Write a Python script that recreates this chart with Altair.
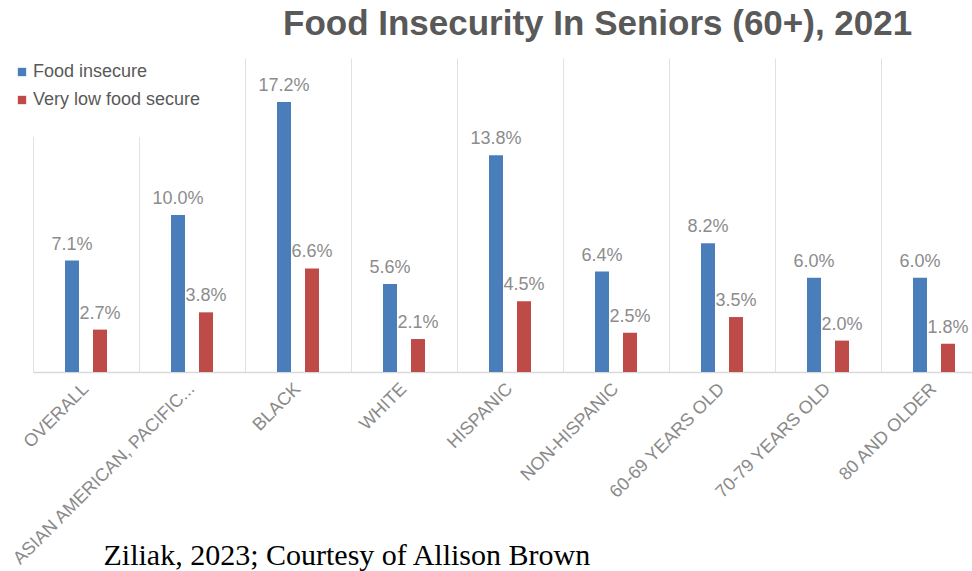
import altair as alt
import pandas as pd

categories = ["OVERALL", "ASIAN AMERICAN, PACIFIC...", "BLACK", "WHITE", "HISPANIC",
              "NON-HISPANIC", "60-69 YEARS OLD", "70-79 YEARS OLD", "80 AND OLDER"]
food_insecure = [7.1, 10.0, 17.2, 5.6, 13.8, 6.4, 8.2, 6.0, 6.0]
very_low = [2.7, 3.8, 6.6, 2.1, 4.5, 2.5, 3.5, 2.0, 1.8]
series = ["Food insecure", "Very low food secure"]
colors = ["#4A7EBB", "#BE4B48"]

rows = []
for c, a, b in zip(categories, food_insecure, very_low):
    rows.append({"cat": c, "series": series[0], "value": a, "label": f"{a:.1f}%"})
    rows.append({"cat": c, "series": series[1], "value": b, "label": f"{b:.1f}%"})
df = pd.DataFrame(rows)

x = alt.X("cat:N", sort=categories,
          scale=alt.Scale(range=[0, 954], paddingInner=0, paddingOuter=0),
          axis=alt.Axis(title="Ziliak, 2023; Courtesy of Allison Brown",
                        titleFont="Liberation Serif", titleFontSize=30,
                        titleFontWeight="normal", titleColor="#000000",
                        titleAnchor="start", titleAlign="left", titleAngle=0,
                        titleBaseline="alphabetic", titleX=70, titleY=192,
                        labelAngle=-45, labelAlign="right", labelBaseline="middle",
                        labelFont="Liberation Sans", labelFontSize=18,
                        labelColor="#8a8a8a", labelPadding=14, labelLimit=400,
                        ticks=False, grid=True, gridColor="#e2e2e2",
                        bandPosition=0, domainColor="#d9d9d9", domainWidth=1.5))
xo = alt.XOffset("series:N", sort=series,
                 scale=alt.Scale(range=[32, 74], paddingInner=0.5, paddingOuter=0))
y = alt.Y("value:Q", scale=alt.Scale(domain=[0, 20], nice=False), axis=None)

base = alt.Chart(df).encode(x=x, xOffset=xo, y=y)

bars = base.mark_bar().encode(
    color=alt.Color("series:N", sort=series,
                    scale=alt.Scale(domain=series, range=colors),
                    legend=alt.Legend(title=" ", titleOrient="bottom", titleFontSize=18,
                                      orient="none", legendX=-25, legendY=0,
                                      symbolType="square", symbolSize=70,
                                      symbolStrokeWidth=0, labelFont="Liberation Sans",
                                      labelFontSize=18, labelColor="#595959",
                                      labelLimit=400,
                                      rowPadding=10, fillColor="white", padding=5,
                                      labelOffset=2))
)

labels = base.mark_text(dy=-7, baseline="bottom", font="Liberation Sans",
                        fontSize=18, color="#8c8c8c").encode(text="label:N")

chart = alt.layer(bars, labels).properties(
    width=939, height=314,
    title=alt.TitleParams("Food Insecurity In Seniors (60+), 2021",
                          font="Liberation Sans", fontSize=35, fontWeight="bold",
                          color="#595959", anchor="start", dx=275, offset=16),
    autosize=alt.AutoSizeParams(type="none"),
    padding={"left": 33, "top": 58, "right": 0, "bottom": 199},
).configure_view(stroke=None)

chart.save("out.html", embed_options={"renderer": "svg", "actions": False})
